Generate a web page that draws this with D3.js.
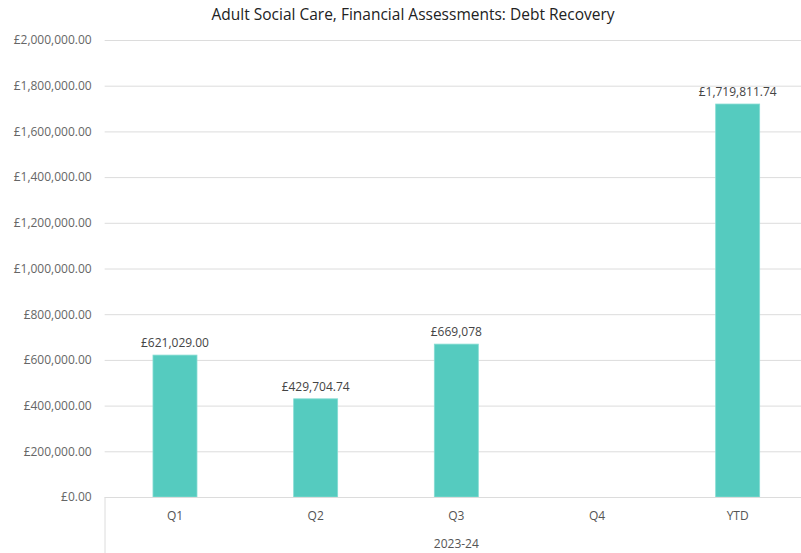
<!DOCTYPE html>
<html>
<head>
<meta charset="utf-8">
<script src="https://cdn.jsdelivr.net/npm/d3@7"></script>
<style>
  html, body { margin: 0; padding: 0; background: #fff; }
  svg { display: block; font-family: "Open Sans", "Noto Sans", sans-serif; }
</style>
</head>
<body>
<svg id="chart" width="801" height="553"></svg>
<script>
// Debt recovery by quarter, 2023-24
const categories = ["Q1", "Q2", "Q3", "Q4", "YTD"];
const values = [621029.00, 429704.74, 669078, null, 1719811.74];
const valueLabels = ["£621,029.00", "£429,704.74", "£669,078", "", "£1,719,811.74"];
const yTicks = [0, 200000, 400000, 600000, 800000, 1000000, 1200000, 1400000, 1600000, 1800000, 2000000];
const groupLabel = "2023-24";
const chartTitle = "Adult Social Care, Financial Assessments: Debt Recovery";

(function () {
  const svg = d3.select("#chart");
  const plotLeft = 104.65, plotRight = 808, plotTop = 40, plotBottom = 497;

  const x = d3.scaleBand().domain(categories).range([plotLeft, plotRight]).paddingInner(0).paddingOuter(0);
  const y = d3.scaleLinear().domain([0, 2000000]).range([plotBottom, plotTop]);
  const barW = 44;
  const fontStack = "\"Open Sans\", \"Noto Sans\", sans-serif";

  const fmtTick = v => "£" + d3.format(",.2f")(v);

  // Title
  svg.append("text")
    .attr("x", 413).attr("y", 20)
    .attr("text-anchor", "middle")
    .attr("font-size", 15.5)
    .attr("fill", "#222")
    .text(chartTitle);

  // Gridlines and y tick labels
  const yAxis = d3.axisLeft(y).tickValues(yTicks).tickFormat(fmtTick).tickSize(0).tickPadding(0);
  const gy = svg.append("g").attr("transform", `translate(${plotLeft},0)`).call(yAxis);
  gy.select(".domain").remove();
  gy.selectAll(".tick text")
    .attr("x", -13)
    .attr("font-size", 12)
    .attr("font-family", fontStack)
    .attr("fill", "#666");
  gy.selectAll(".tick line")
    .attr("x1", 0).attr("x2", 801 - plotLeft)
    .attr("stroke", "#dcdcdc").attr("stroke-width", 1);

  // Bars
  const data = categories.map((c, i) => ({ c, v: values[i], label: valueLabels[i] })).filter(d => d.v != null);
  svg.append("g").selectAll("rect").data(data).join("rect")
    .attr("x", d => x(d.c) + x.bandwidth() / 2 - barW / 2)
    .attr("y", d => y(d.v))
    .attr("width", barW)
    .attr("height", d => y(0) - y(d.v))
    .attr("fill", "#55cbbf")
    .attr("stroke", "#86dcd3")
    .attr("stroke-width", 0.8);

  // Value labels
  svg.append("g").selectAll("text").data(data).join("text")
    .attr("x", d => x(d.c) + x.bandwidth() / 2)
    .attr("y", d => y(d.v) - 8)
    .attr("text-anchor", "middle")
    .attr("font-size", 12)
    .attr("fill", "#444")
    .text(d => d.label);

  // Category axis
  const xAxis = d3.axisBottom(x).tickSize(0).tickPadding(14);
  const gx = svg.append("g").attr("transform", `translate(0,${plotBottom})`).call(xAxis);
  gx.select(".domain").remove();
  gx.selectAll(".tick text")
    .attr("font-size", 12)
    .attr("font-family", fontStack)
    .attr("fill", "#555");

  // Baseline and group separator
  svg.append("line")
    .attr("x1", plotLeft + 0.35).attr("x2", 801)
    .attr("y1", plotBottom + 0.5).attr("y2", plotBottom + 0.5)
    .attr("stroke", "#dcdcdc");
  svg.append("line")
    .attr("x1", plotLeft + 0.35).attr("x2", plotLeft + 0.35)
    .attr("y1", plotBottom).attr("y2", 553)
    .attr("stroke", "#dcdcdc");

  // Group label
  svg.append("text")
    .attr("x", (plotLeft + plotRight) / 2).attr("y", 548)
    .attr("text-anchor", "middle")
    .attr("font-size", 12)
    .attr("fill", "#555")
    .text(groupLabel);
})();
</script>
</body>
</html>
